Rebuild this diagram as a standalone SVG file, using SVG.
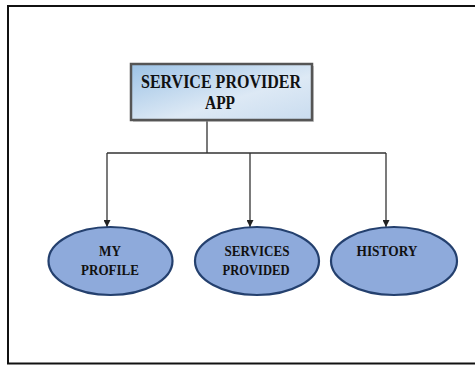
<svg xmlns="http://www.w3.org/2000/svg" width="475" height="365" viewBox="0 0 475 365">
<style>
.t{font-family:"Liberation Serif","Times New Roman",serif;font-weight:bold;fill:#111;text-anchor:middle}
.big{font-size:18px}
.sm{font-size:15px}
.ell{fill:#8eaadb;stroke:#24406e;stroke-width:2.2}
.ln{stroke:#333;stroke-width:1.3;fill:none}
</style>
<defs>
<linearGradient id="g" x1="0" y1="0" x2="1" y2="1">
<stop offset="0" stop-color="#9cc2e5"/>
<stop offset="0.6" stop-color="#dde9f5"/>
<stop offset="1" stop-color="#c9dcef"/>
</linearGradient>
<marker id="a" viewBox="0 0 10 10" refX="10" refY="5" markerWidth="7" markerHeight="7" orient="auto" markerUnits="userSpaceOnUse">
<path d="M0,0 L10,5 L0,10 z" fill="#222"/>
</marker>
</defs>
<rect x="0" y="0" width="475" height="365" fill="#fff"/>
<rect x="8" y="6" width="468" height="357.5" fill="none" stroke="#111" stroke-width="2"/>
<g id="connectors">
<path class="ln" d="M207,121 V153 M107,153 H386"/>
<path class="ln" d="M107,153 V227" marker-end="url(#a)"/>
<path class="ln" d="M250,153 V227" marker-end="url(#a)"/>
<path class="ln" d="M386,153 V227" marker-end="url(#a)"/>
</g>
<g id="root">
<rect x="133" y="66" width="181" height="56" fill="#999" opacity="0.5"/>
<rect x="131" y="64" width="181" height="56" fill="url(#g)" stroke="#555" stroke-width="2.5"/>
<text class="t big" x="221" y="88" textLength="160" lengthAdjust="spacingAndGlyphs">SERVICE PROVIDER</text>
<text class="t big" x="220" y="109" textLength="30" lengthAdjust="spacingAndGlyphs">APP</text>
</g>
<g id="myprofile">
<ellipse class="ell" cx="110.5" cy="261" rx="62" ry="34"/>
<text class="t sm" x="110" y="256" textLength="22" lengthAdjust="spacingAndGlyphs">MY</text>
<text class="t sm" x="110" y="275" textLength="58" lengthAdjust="spacingAndGlyphs">PROFILE</text>
</g>
<g id="services">
<ellipse class="ell" cx="257" cy="261" rx="62" ry="34"/>
<text class="t sm" x="257" y="256" textLength="65" lengthAdjust="spacingAndGlyphs">SERVICES</text>
<text class="t sm" x="256" y="275" textLength="67" lengthAdjust="spacingAndGlyphs">PROVIDED</text>
</g>
<g id="history">
<ellipse class="ell" cx="394" cy="261" rx="63" ry="34"/>
<text class="t sm" x="387" y="256" textLength="61" lengthAdjust="spacingAndGlyphs">HISTORY</text>
</g>
</svg>
